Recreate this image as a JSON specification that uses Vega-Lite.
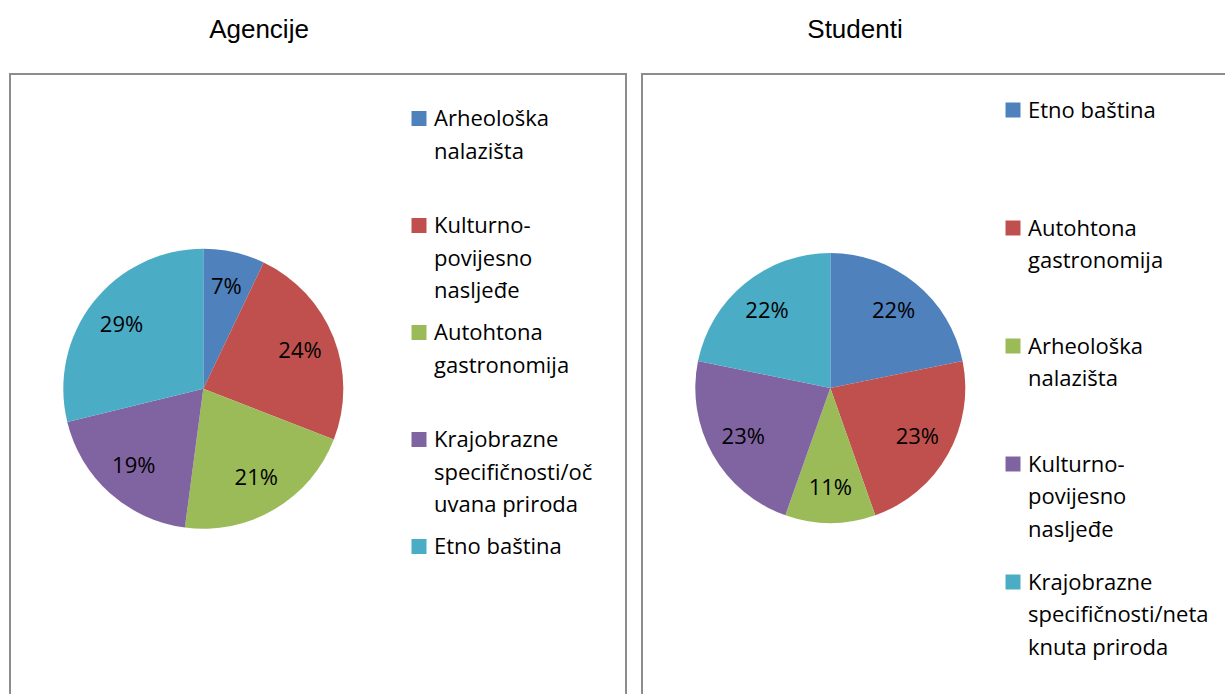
{
  "$schema": "https://vega.github.io/schema/vega-lite/v6.json",
  "padding": {"left": 9, "top": 16, "right": 0, "bottom": 0},
  "spacing": 14,
  "datasets": {
    "agencije": [
      {"kategorija": "Arheološka nalazišta", "udio": 0.071, "redoslijed": 1},
      {"kategorija": "Kulturno-povijesno nasljeđe", "udio": 0.238, "redoslijed": 2},
      {"kategorija": "Autohtona gastronomija", "udio": 0.212, "redoslijed": 3},
      {"kategorija": "Krajobrazne specifičnosti/očuvana priroda", "udio": 0.191, "redoslijed": 4},
      {"kategorija": "Etno baština", "udio": 0.288, "redoslijed": 5}
    ],
    "studenti": [
      {"kategorija": "Etno baština", "udio": 0.218, "redoslijed": 1},
      {"kategorija": "Autohtona gastronomija", "udio": 0.228, "redoslijed": 2},
      {"kategorija": "Arheološka nalazišta", "udio": 0.108, "redoslijed": 3},
      {"kategorija": "Kulturno-povijesno nasljeđe", "udio": 0.228, "redoslijed": 4},
      {"kategorija": "Krajobrazne specifičnosti/netaknuta priroda", "udio": 0.218, "redoslijed": 5}
    ]
  },
  "hconcat": [
    {
      "width": 616,
      "height": 630,
      "view": {"stroke": "#8c8c8c", "strokeWidth": 2},
      "title": {"text": "Agencije", "font": "Liberation Sans", "fontSize": 26, "fontWeight": "normal", "color": "black", "dx": -59, "offset": 10, "baseline": "alphabetic"},
      "data": {"name": "agencije"},
      "layer": [
        {
          "mark": {"type": "arc", "outerRadius": 140, "x": 193.3, "y": 314.8},
          "encoding": {
            "theta": {"field": "udio", "type": "quantitative", "stack": true},
            "order": {"field": "redoslijed", "type": "quantitative"},
            "color": {
              "field": "kategorija", "type": "nominal", "sort": null,
              "scale": {"range": ["#4F81BD", "#C0504D", "#9BBB59", "#8064A2", "#4BACC6"]},
              "legend": {
                "orient": "none", "legendX": 398, "legendY": 41, "title": null, "padding": 0,
                "symbolType": "M-1,-2H1V0H-1Z", "symbolSize": 225, "symbolStrokeWidth": 0,
                "labelFont": "Open Sans", "labelFontSize": 22, "labelColor": "black",
                "labelBaseline": "alphabetic", "labelOffset": 4, "labelLimit": 300, "rowPadding": 20,
                "labelExpr": "datum.label == 'Arheološka nalazišta' ? ['Arheološka','nalazišta',''] : datum.label == 'Kulturno-povijesno nasljeđe' ? ['Kulturno-','povijesno','nasljeđe'] : datum.label == 'Autohtona gastronomija' ? ['Autohtona','gastronomija',''] : datum.label == 'Krajobrazne specifičnosti/očuvana priroda' ? ['Krajobrazne','specifičnosti/oč','uvana priroda'] : [datum.label,'','']"
              }
            }
          }
        },
        {
          "mark": {"type": "text", "radius": 104, "x": 193.3, "y": 314.8, "font": "Open Sans", "fontSize": 22, "color": "black"},
          "encoding": {
            "theta": {"field": "udio", "type": "quantitative", "stack": true},
            "order": {"field": "redoslijed", "type": "quantitative"},
            "detail": {"field": "kategorija", "type": "nominal"},
            "text": {"field": "udio", "type": "quantitative", "format": ".0%"}
          }
        }
      ]
    },
    {
      "width": 600,
      "height": 630,
      "view": {"stroke": "#8c8c8c", "strokeWidth": 2},
      "title": {"text": "Studenti", "font": "Liberation Sans", "fontSize": 26, "fontWeight": "normal", "color": "black", "dx": -87, "offset": 10, "baseline": "alphabetic"},
      "data": {"name": "studenti"},
      "layer": [
        {
          "mark": {"type": "arc", "outerRadius": 135, "x": 188.3, "y": 314},
          "encoding": {
            "theta": {"field": "udio", "type": "quantitative", "stack": true},
            "order": {"field": "redoslijed", "type": "quantitative"},
            "color": {
              "field": "kategorija", "type": "nominal", "sort": null,
              "scale": {"range": ["#4F81BD", "#C0504D", "#9BBB59", "#8064A2", "#4BACC6"]},
              "legend": {
                "orient": "none", "legendX": 360, "legendY": 32.5, "title": null, "padding": 0,
                "symbolType": "M-1,-2H1V0H-1Z", "symbolSize": 225, "symbolStrokeWidth": 0,
                "labelFont": "Open Sans", "labelFontSize": 22, "labelColor": "black",
                "labelBaseline": "alphabetic", "labelOffset": 4, "labelLimit": 300, "rowPadding": 31,
                "labelExpr": "datum.label == 'Arheološka nalazišta' ? ['Arheološka','nalazišta',''] : datum.label == 'Kulturno-povijesno nasljeđe' ? ['Kulturno-','povijesno','nasljeđe'] : datum.label == 'Autohtona gastronomija' ? ['Autohtona','gastronomija',''] : datum.label == 'Krajobrazne specifičnosti/netaknuta priroda' ? ['Krajobrazne','specifičnosti/neta','knuta priroda'] : [datum.label,'','']"
              }
            }
          }
        },
        {
          "mark": {"type": "text", "radius": 100, "x": 188.3, "y": 314, "font": "Open Sans", "fontSize": 22, "color": "black"},
          "encoding": {
            "theta": {"field": "udio", "type": "quantitative", "stack": true},
            "order": {"field": "redoslijed", "type": "quantitative"},
            "detail": {"field": "kategorija", "type": "nominal"},
            "text": {"field": "udio", "type": "quantitative", "format": ".0%"}
          }
        }
      ]
    }
  ],
  "resolve": {"scale": {"color": "independent"}, "legend": {"color": "independent"}},
  "config": {
    "view": {"stroke": "#8c8c8c", "strokeWidth": 2},
    "style": {"guide-label": {"lineHeight": 32.5}}
  }
}
